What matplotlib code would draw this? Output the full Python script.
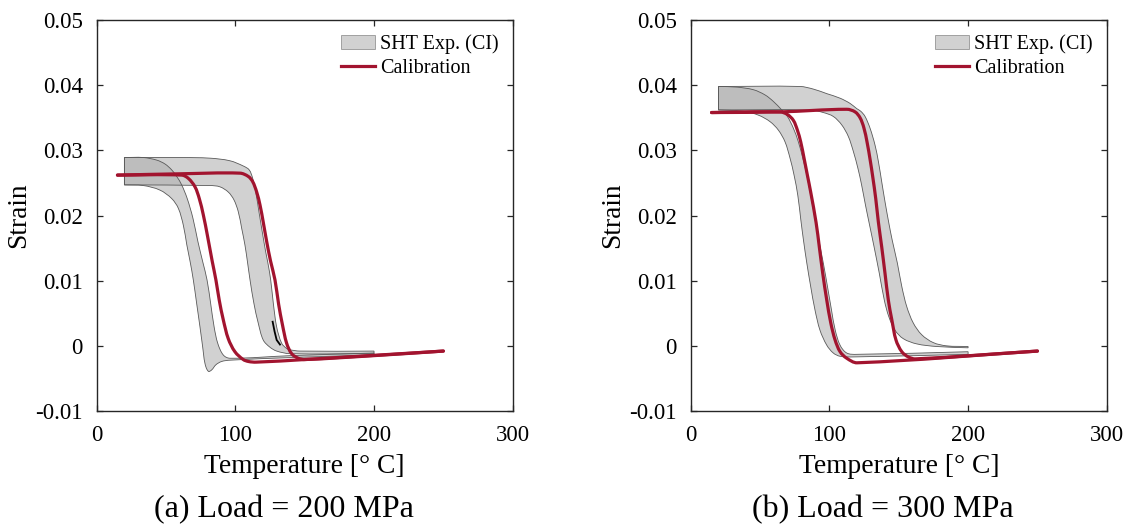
import matplotlib
matplotlib.use("Agg")
import numpy as np
import matplotlib.pyplot as plt
from matplotlib.patches import Patch, PathPatch
from matplotlib.path import Path
from matplotlib.lines import Line2D

plt.rcParams['font.family'] = ['Liberation Serif', 'DejaVu Serif']

# ---------------- Load = 200 MPa ----------------
# heating branch CI band (upper / lower bound)
a_heat_up_T = [20, 60, 81.7, 96.1, 105.7, 110.0, 112.5, 114.7, 117.0, 119.4, 121.9, 123.4,
               125.5, 127.4, 129.8, 133.4, 137.0, 139.4, 146.6, 200]
a_heat_up_S = [0.0289, 0.0289, 0.0288, 0.0284, 0.0276, 0.0270, 0.0257, 0.0236, 0.0206, 0.0175,
               0.0144, 0.0128, 0.0101, 0.0065, 0.0029, 0.0004, -0.0004, -0.0006, -0.0008, -0.0008]
a_heat_lo_T = [20, 81.7, 88.9, 94.9, 99.0, 102.1, 104.6, 106.9, 108.8, 110.6, 113.4, 116.5,
               120.1, 124.9, 129.8, 139.4, 200]
a_heat_lo_S = [0.0247, 0.0246, 0.0244, 0.0236, 0.0224, 0.0206, 0.0180, 0.0155, 0.0128, 0.0101,
               0.0065, 0.0035, 0.0009, -0.0002, -0.0008, -0.0012, -0.0012]
# cooling branch CI band
a_cool_up_T = [20, 33.6, 43.3, 49.3, 54.1, 57.7, 61.3, 65.3, 69.4, 73.0, 76.6, 79.6, 82.2,
               84.7, 87.3, 91.3, 96.1, 140, 200]
a_cool_up_S = [0.0289, 0.0289, 0.0285, 0.0279, 0.0270, 0.0260, 0.0247, 0.0226, 0.0196, 0.0160,
               0.0128, 0.0101, 0.0065, 0.0029, 0.0004, -0.0014, -0.0019, -0.0015, -0.0011]
a_cool_lo_T = [20, 33.6, 45.6, 54.1, 58.9, 62.5, 65.0, 67.5, 69.7, 72.1, 74.5, 76.4, 78.1,
               80.5, 82.9, 86.0, 90.1, 96.1, 140, 200]
a_cool_lo_S = [0.0247, 0.0246, 0.0239, 0.0226, 0.0211, 0.0185, 0.0155, 0.0128, 0.0101, 0.0065,
               0.0029, -0.0001, -0.0027, -0.0039, -0.0037, -0.0029, -0.0024, -0.0022, -0.0018,
               -0.0014]
# measurement glitch on the heating branch
a_glitch_T = [126.9, 128.3, 129.8, 132.2]
a_glitch_S = [0.0037, 0.0022, 0.0009, 0.0002]
# calibrated model: heating path and cooling path
a_calh_T = [15, 60, 103.3, 109.3, 112.5, 115.4, 117.8, 120.1, 122.6, 125.4, 128.6, 131.2,
            134.0, 137.0, 140.6, 145.4, 150, 200, 250]
a_calh_S = [0.0262, 0.0264, 0.0265, 0.0260, 0.0252, 0.0236, 0.0216, 0.0190, 0.0160, 0.0130,
            0.0101, 0.0064, 0.0032, 0.0004, -0.0012, -0.0019, -0.0021, -0.0015, -0.0008]
a_calc_T = [250, 150, 115, 109.5, 105.7, 99.7, 94.9, 91.3, 88.4, 86.0, 83.3, 79.8, 76.9, 74.0,
            70.9, 66.1, 61.3, 15]
a_calc_S = [-0.0008, -0.0021, -0.0025, -0.0024, -0.0021, -0.0009, 0.0011, 0.0040, 0.0070,
            0.0101, 0.0130, 0.0170, 0.0201, 0.0226, 0.0244, 0.0257, 0.0262, 0.0262]

# ---------------- Load = 300 MPa ----------------
b_heat_up_T = [20, 78.8, 88.4, 98.1, 107.7, 114.9, 119.7, 122.6, 125.7, 129.3, 132.9, 135.3,
               137.7, 140.1, 142.8, 145.3, 149.0, 152.2, 155.8, 160.5, 166.6, 174.9, 184.6, 200]
b_heat_up_S = [0.0398, 0.0398, 0.0394, 0.0387, 0.0380, 0.0372, 0.0364, 0.0360, 0.0352, 0.0334,
               0.0308, 0.0283, 0.0252, 0.0221, 0.0189, 0.0162, 0.0127, 0.0091, 0.0060, 0.0035,
               0.0017, 0.0005, 0.0000, -0.0001]
b_heat_lo_T = [20, 86.0, 95.6, 102.8, 108.9, 113.7, 117.3, 120.6, 123.2, 126.0, 128.6, 132.2,
               136.0, 139.6, 142.8, 147.3, 153.3, 163.0, 177.4, 200]
b_heat_lo_S = [0.0362, 0.0362, 0.0358, 0.0352, 0.0339, 0.0321, 0.0298, 0.0272, 0.0247, 0.0216,
               0.0189, 0.0152, 0.0111, 0.0070, 0.0045, 0.0024, 0.0011, 0.0003, -0.0001, -0.0003]
b_cool_up_T = [20, 33.2, 45.2, 53.6, 59.6, 65.6, 69.7, 74.0, 77.6, 80.8, 83.7, 86.5, 89.6,
               92.4, 95.6, 98.6, 101.5, 104.2, 107.7, 112.5, 119.7, 200]
b_cool_up_S = [0.0398, 0.0397, 0.0393, 0.0385, 0.0375, 0.0362, 0.0352, 0.0334, 0.0313, 0.0288,
               0.0262, 0.0231, 0.0195, 0.0162, 0.0127, 0.0091, 0.0055, 0.0024, 0.0001, -0.0011,
               -0.0013, -0.0009]
b_cool_lo_T = [20, 37.9, 48.8, 57.2, 63.2, 68.0, 71.6, 74.5, 77.2, 79.4, 81.3, 83.7, 86.5,
               89.6, 93.2, 98.1, 102.8, 107.7, 117.3, 200]
b_cool_lo_S = [0.0362, 0.0360, 0.0354, 0.0344, 0.0331, 0.0313, 0.0288, 0.0262, 0.0231, 0.0193,
               0.0162, 0.0127, 0.0091, 0.0055, 0.0024, 0.0001, -0.0011, -0.0016, -0.0017, -0.0013]
b_calh_T = [15, 64.4, 112.5, 118.5, 122.1, 124.8, 127.2, 129.4, 131.2, 133.4, 135.3, 137.7,
            140.1, 142.5, 145.0, 148.0, 152.2, 156.9, 162, 250]
b_calh_S = [0.0358, 0.0359, 0.0363, 0.0359, 0.0350, 0.0335, 0.0312, 0.0285, 0.0260, 0.0226,
            0.0190, 0.0152, 0.0111, 0.0070, 0.0040, 0.0009, -0.0009, -0.0017, -0.0020, -0.0008]
b_calc_T = [250, 120, 112.5, 107.7, 104.1, 101.0, 98.1, 95.2, 92.7, 90.4, 86.5, 84.1, 81.7,
            79.3, 76.9, 74.0, 69.7, 64.4, 15]
b_calc_S = [-0.0008, -0.0026, -0.0019, -0.0009, 0.0009, 0.0035, 0.0070, 0.0111, 0.0152,
            0.0189, 0.0236, 0.0262, 0.0288, 0.0313, 0.0331, 0.0346, 0.0355, 0.0359, 0.0358]

captions = ["(a) Load = 200 MPa", "(b) Load = 300 MPa"]
x_ticks = [0, 100, 200, 300]
y_ticks = [-0.01, 0, 0.01, 0.02, 0.03, 0.04, 0.05]
y_tick_labels = ["-0.01", "0", "0.01", "0.02", "0.03", "0.04", "0.05"]

RED = '#A2142F'
BAND_FACE = (0.69, 0.69, 0.69)
BAND_ALPHA = 0.58
BAND_EDGE = (0.35, 0.35, 0.35)
SPINE = (0.15, 0.15, 0.15)
XLIM = (0, 300)
YLIM = (-0.01, 0.05)

fig = plt.figure(figsize=(11.32, 5.25), dpi=100)
ax_a = fig.add_axes([0.0854, 0.2171, 0.3675, 0.7448])
ax_b = fig.add_axes([0.6102, 0.2171, 0.3675, 0.7448])
AX_W_PX, AX_H_PX = 416.0, 391.0


def bezier_through(xs, ys):
    """Vertices/codes of a smooth cubic Bezier curve passing through the points."""
    sx = AX_W_PX / (XLIM[1] - XLIM[0])
    sy = AX_H_PX / (YLIM[1] - YLIM[0])
    P = np.column_stack([np.asarray(xs, float) * sx, np.asarray(ys, float) * sy])
    n = len(P)
    tang = np.zeros_like(P)
    for i in range(n):
        d = P[min(i + 1, n - 1)] - P[max(i - 1, 0)]
        nd = np.hypot(*d)
        tang[i] = d / nd if nd > 0 else 0
    verts = [P[0]]
    codes = [Path.MOVETO]
    for i in range(n - 1):
        L = np.hypot(*(P[i + 1] - P[i]))
        verts += [P[i] + tang[i] * L / 3, P[i + 1] - tang[i + 1] * L / 3, P[i + 1]]
        codes += [Path.CURVE4] * 3
    V = np.array(verts)
    V[:, 0] /= sx
    V[:, 1] /= sy
    return V, codes


def smooth_line(ax, xs, ys, **kw):
    V, C = bezier_through(xs, ys)
    ax.add_patch(PathPatch(Path(V, C), facecolor='none', **kw))


def band(ax, lo_T, lo_S, up_T, up_S):
    V1, C1 = bezier_through(lo_T, lo_S)
    V2, C2 = bezier_through(up_T[::-1], up_S[::-1])
    C2 = [Path.LINETO] + C2[1:]
    V = np.vstack([V1, V2, V1[:1]])
    C = C1 + C2 + [Path.CLOSEPOLY]
    path = Path(V, C)
    ax.add_patch(PathPatch(path, facecolor=BAND_FACE, alpha=BAND_ALPHA,
                           edgecolor='none', zorder=2))
    ax.add_patch(PathPatch(path, facecolor='none', edgecolor=BAND_EDGE,
                           lw=0.6, zorder=3))


panels = [
    (ax_a, (a_heat_lo_T, a_heat_lo_S, a_heat_up_T, a_heat_up_S),
     (a_cool_lo_T, a_cool_lo_S, a_cool_up_T, a_cool_up_S),
     (a_calh_T, a_calh_S), (a_calc_T, a_calc_S)),
    (ax_b, (b_heat_lo_T, b_heat_lo_S, b_heat_up_T, b_heat_up_S),
     (b_cool_lo_T, b_cool_lo_S, b_cool_up_T, b_cool_up_S),
     (b_calh_T, b_calh_S), (b_calc_T, b_calc_S)),
]
caption_x_px = [284, 883]

for i, (ax, heat, cool, calh, calc) in enumerate(panels):
    band(ax, *heat)
    band(ax, *cool)
    if i == 0:
        ax.plot(a_glitch_T, a_glitch_S, color='black', lw=1.3, zorder=4)
    smooth_line(ax, *calh, edgecolor=RED, lw=2.3, zorder=5, capstyle='round')
    smooth_line(ax, *calc, edgecolor=RED, lw=2.3, zorder=5, capstyle='round')

    ax.set_xlim(*XLIM)
    ax.set_ylim(*YLIM)
    ax.set_xticks(x_ticks)
    ax.set_xticklabels([str(t) for t in x_ticks])
    ax.set_yticks(y_ticks)
    ax.set_yticklabels(y_tick_labels)
    ax.tick_params(direction='in', length=4, width=0.9, color=SPINE,
                   top=True, right=True, labelsize=16.5)
    ax.tick_params(axis='x', pad=10)
    ax.tick_params(axis='y', pad=10)
    for sp in ax.spines.values():
        sp.set_linewidth(1.0)
        sp.set_color(SPINE)
    ax.set_xlabel('Temperature [° C]', fontsize=19.8, labelpad=6)
    ax.set_ylabel('Strain', fontsize=19.8, labelpad=3)

    handles = [Patch(facecolor=BAND_FACE, alpha=BAND_ALPHA, edgecolor=BAND_EDGE, lw=0.6),
               Line2D([0], [0], color=RED, lw=2.3)]
    ax.legend(handles, ['SHT Exp. (CI)', 'Calibration'], loc='upper right',
              bbox_to_anchor=(1.0, 1.0), frameon=False, fontsize=14.5,
              handlelength=1.7, handletextpad=0.25, labelspacing=0.25,
              borderaxespad=0.3)

    fig.text(caption_x_px[i] / 1132, 0.029, captions[i], ha='center', va='center',
             fontsize=23)

fig.savefig('out.png', dpi=100)
